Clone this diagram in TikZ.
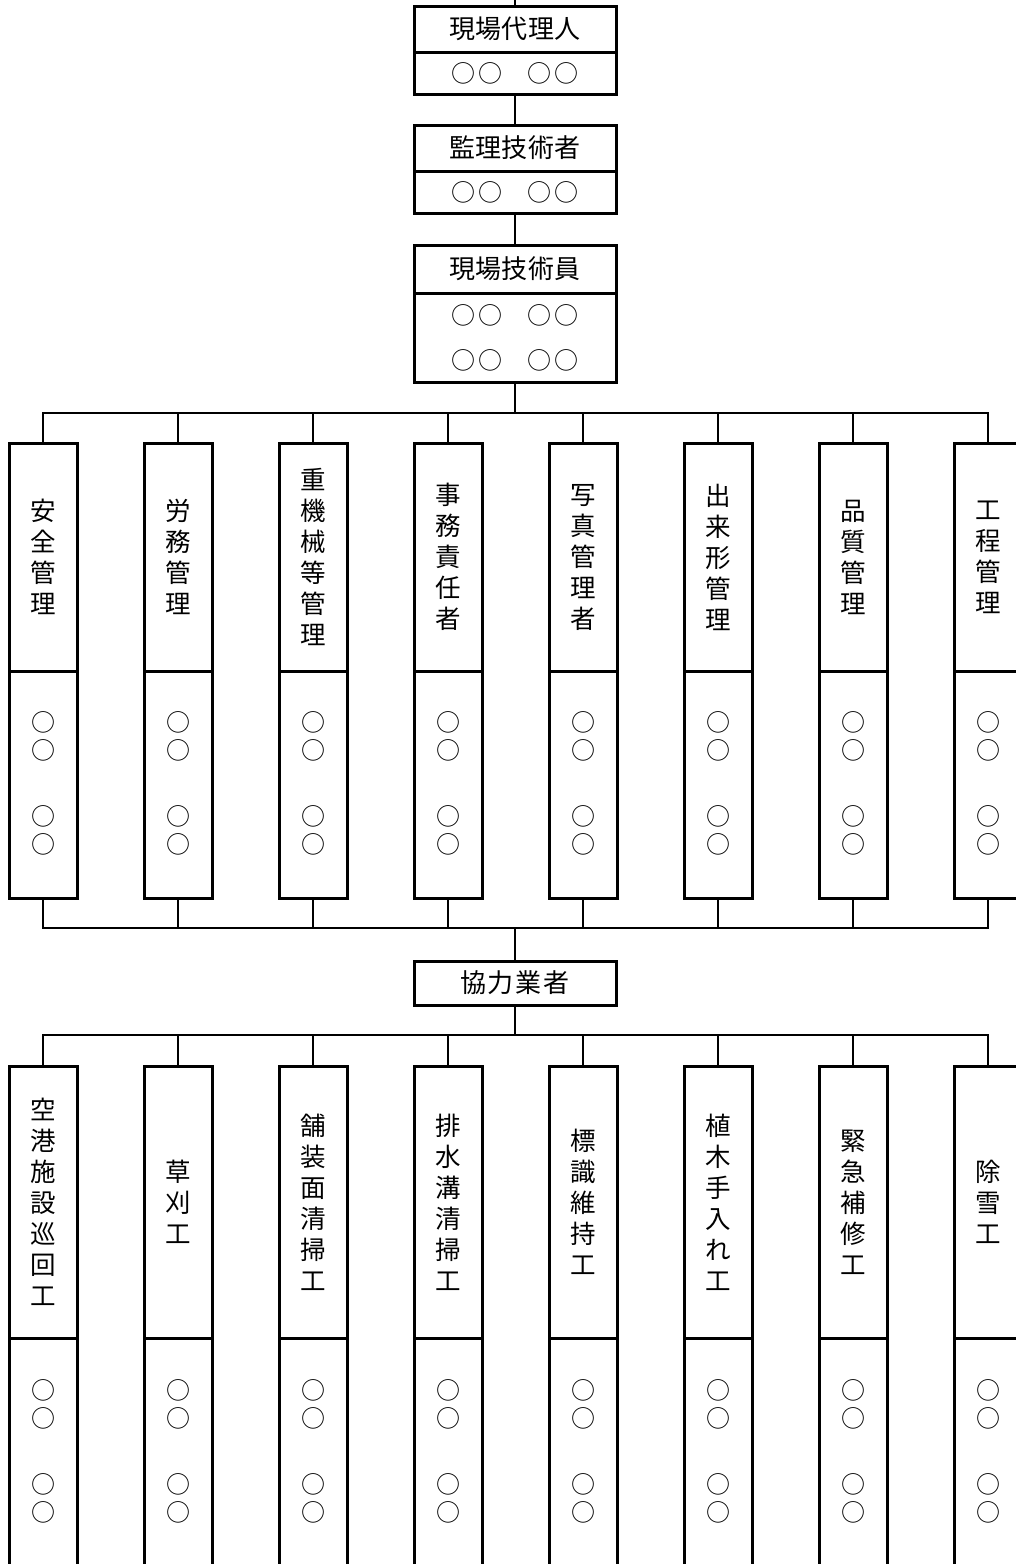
\documentclass[tikz,border=0pt]{standalone}
\usepackage{fontspec}
\setmainfont{Noto Sans CJK JP}
\newcommand{\lsa}{\hspace{0.5pt}}
\newcommand{\lsb}{\hspace{2pt}}
\newcommand{\oo}{○\kern3pt○}
\newcommand{\namerow}{\oo\hspace{25pt}\oo}
\tikzset{
  box/.style={draw, line width=3pt, inner sep=0pt, minimum width=202pt, font=\fontsize{26}{28}\selectfont},
  col/.style={draw, line width=3pt, inner sep=0pt, minimum width=68pt},
  conn/.style={line width=1.8pt},
  vlbl/.style={font=\fontsize{25.5}{31}\selectfont, align=center, inner sep=0pt},
  circ/.style={font=\fontsize{24}{28}\selectfont, align=center, inner sep=0pt},
}
\begin{document}
\begin{tikzpicture}[x=1pt,y=-1pt]
\useasboundingbox (0,0) rectangle (1016,1564);
\clip (0,0) rectangle (1016,1564);
\fill[white] (0,0) rectangle (1016,1564);

% top chain
\node[box, minimum height=46pt] (t1) at (515,29) {現\lsa 場\lsa 代\lsa 理\lsa 人};
\node[box, minimum height=42pt, font=\fontsize{24}{28}\selectfont] (n1) at (515,73) {\namerow};
\node[box, minimum height=46pt] (t2) at (515,148) {監\lsa 理\lsa 技\lsa 術\lsa 者};
\node[box, minimum height=42pt, font=\fontsize{24}{28}\selectfont] (n2) at (515,192) {\namerow};
\node[box, minimum height=48pt] (t3) at (515,269) {現\lsa 場\lsa 技\lsa 術\lsa 員};
\node[box, minimum height=89pt, align=center, font=\fontsize{24}{45}\selectfont] (n3) at (515,337.5) {\namerow\\\namerow};

\coordinate (top) at (515,0);
\draw[conn] (top) -- (t1.north);
\draw[conn] (n1.south) -- (t2.north);
\draw[conn] (n2.south) -- (t3.north);

% row 1
\foreach \i/\t in {1/{安\\全\\管\\理}, 2/{労\\務\\管\\理}, 3/{重\\機\\械\\等\\管\\理}, 4/{事\\務\\責\\任\\者}, 5/{写\\真\\管\\理\\者}, 6/{出\\来\\形\\管\\理}, 7/{品\\質\\管\\理}, 8/{工\\程\\管\\理}} {
  \node[col, minimum height=228pt] (a\i) at ({43+135*(\i-1)},557) {};
  \node[vlbl] (al\i) at (a\i.center) {\t};
  \node[col, minimum height=227pt] (p\i) at ({43+135*(\i-1)},784.5) {};
  \node[circ] (pc\i) at ({43+135*(\i-1)},783) {○\\○\\[38pt]○\\○};
}

% row 2
\foreach \i/\t in {1/{空\\港\\施\\設\\巡\\回\\工}, 2/{草\\刈\\工}, 3/{舗\\装\\面\\清\\掃\\工}, 4/{排\\水\\溝\\清\\掃\\工}, 5/{標\\識\\維\\持\\工}, 6/{植\\木\\手\\入\\れ\\工}, 7/{緊\\急\\補\\修\\工}, 8/{除\\雪\\工}} {
  \node[col, minimum height=272pt] (c\i) at ({43+135*(\i-1)},1202) {};
  \node[vlbl] (cl\i) at (c\i.center) {\t};
  \node[col, minimum height=242pt] (q\i) at ({43+135*(\i-1)},1459) {};
  \node[circ] (qc\i) at ({43+135*(\i-1)},1451) {○\\○\\[38pt]○\\○};
}

% middle box
\node[box, minimum height=44pt] (k) at (515,983) {協\lsb 力\lsb 業\lsb 者};

% branch 1
\coordinate (h1) at (515,413);
\draw[conn] (n3.south) -- (h1);
\draw[conn] (a1.north) |- (h1) -| (a8.north);
\foreach \i in {2,...,7} { \draw[conn] (a\i.north) -- (a\i.north |- h1); }

% merge
\coordinate (h2) at (515,928);
\draw[conn] (p1.south) |- (h2) -| (p8.south);
\foreach \i in {2,...,7} { \draw[conn] (p\i.south) -- (p\i.south |- h2); }
\draw[conn] (h2) -- (k.north);

% branch 2
\coordinate (h3) at (515,1035);
\draw[conn] (k.south) -- (h3);
\draw[conn] (c1.north) |- (h3) -| (c8.north);
\foreach \i in {2,...,7} { \draw[conn] (c\i.north) -- (c\i.north |- h3); }
\end{tikzpicture}
\end{document}
